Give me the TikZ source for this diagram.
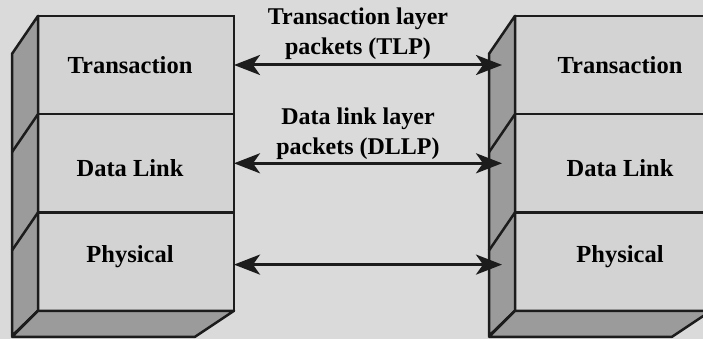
\documentclass[tikz,border=0pt]{standalone}
\usepackage{fontspec}
\setmainfont{Liberation Serif}
\usetikzlibrary{arrows.meta,positioning}
\definecolor{backgray}{HTML}{DADADA}
\definecolor{facegray}{HTML}{D3D3D3}
\definecolor{sidegray}{HTML}{9B9B9B}
\definecolor{edgeblack}{HTML}{1C1C1C}

\begin{document}
\begin{tikzpicture}[x=1pt,y=-1pt,
	face/.style={draw=edgeblack,fill=facegray,line width=2.5pt,minimum width=196pt,minimum height=98.3pt,outer sep=0pt,inner sep=0pt},
	side/.style={draw=edgeblack,fill=sidegray,line width=2.5pt,line join=round},
	lname/.style={font=\fontsize{24.5}{30}\selectfont\bfseries},
	link/.style={draw=edgeblack,line width=3pt,{Stealth[length=26pt,width=20pt,inset=7pt]}-{Stealth[length=26pt,width=20pt,inset=7pt]}},
	tag/.style={font=\fontsize{24}{30}\selectfont\bfseries,align=center,inner sep=4pt}]
		\fill[backgray] (0,0) rectangle (703,339);
		\clip (0,0) rectangle (703,339);
		% left stack
		\node[face,label={[lname,xshift=-6pt]center:Transaction}] (lt) at (136,65) {};
		\node[face,below=0pt of lt,label={[lname,xshift=-6pt,yshift=-5pt]center:Data Link}] (ld) {};
		\node[face,below=0pt of ld,label={[lname,xshift=-6pt,yshift=5pt]center:Physical}] (lp) {};
		\draw[side] (lt.north west) -- ++(-26,38) -- ++(0,282) -- (lp.south west) -- cycle;
		\draw[side] (ld.north west) -- ++(-26,38) (ld.south west) -- ++(-26,38);
		\draw[side] (lp.south west) -- (lp.south east) -- ++(-39,26) -- ++(-183,0) -- cycle;
		% right stack
		\node[face,label={[lname,xshift=7pt]center:Transaction}] (rt) at (613,65) {};
		\node[face,below=0pt of rt,label={[lname,xshift=7pt,yshift=-5pt]center:Data Link}] (rd) {};
		\node[face,below=0pt of rd,label={[lname,xshift=7pt,yshift=5pt]center:Physical}] (rp) {};
		\draw[side] (rt.north west) -- ++(-26,38) -- ++(0,282) -- (rp.south west) -- cycle;
		\draw[side] (rd.north west) -- ++(-26,38) (rd.south west) -- ++(-26,38);
		\draw[side] (rp.south west) -- (rp.south east) -- ++(-39,26) -- ++(-183,0) -- cycle;
		% packets
		\draw[link] (lt.east) -- ([xshift=-13pt]rt.west)
			node[tag,midway,above,xshift=-10pt] {Transaction layer\\packets (TLP)};
		\draw[link] (ld.east) -- ([xshift=-13pt]rd.west)
			node[tag,midway,above,xshift=-10pt,yshift=-2pt] {Data link layer\\packets (DLLP)};
		\draw[link] ([yshift=-3pt]lp.east) -- ([xshift=-13pt,yshift=-3pt]rp.west);
\end{tikzpicture}
\end{document}
